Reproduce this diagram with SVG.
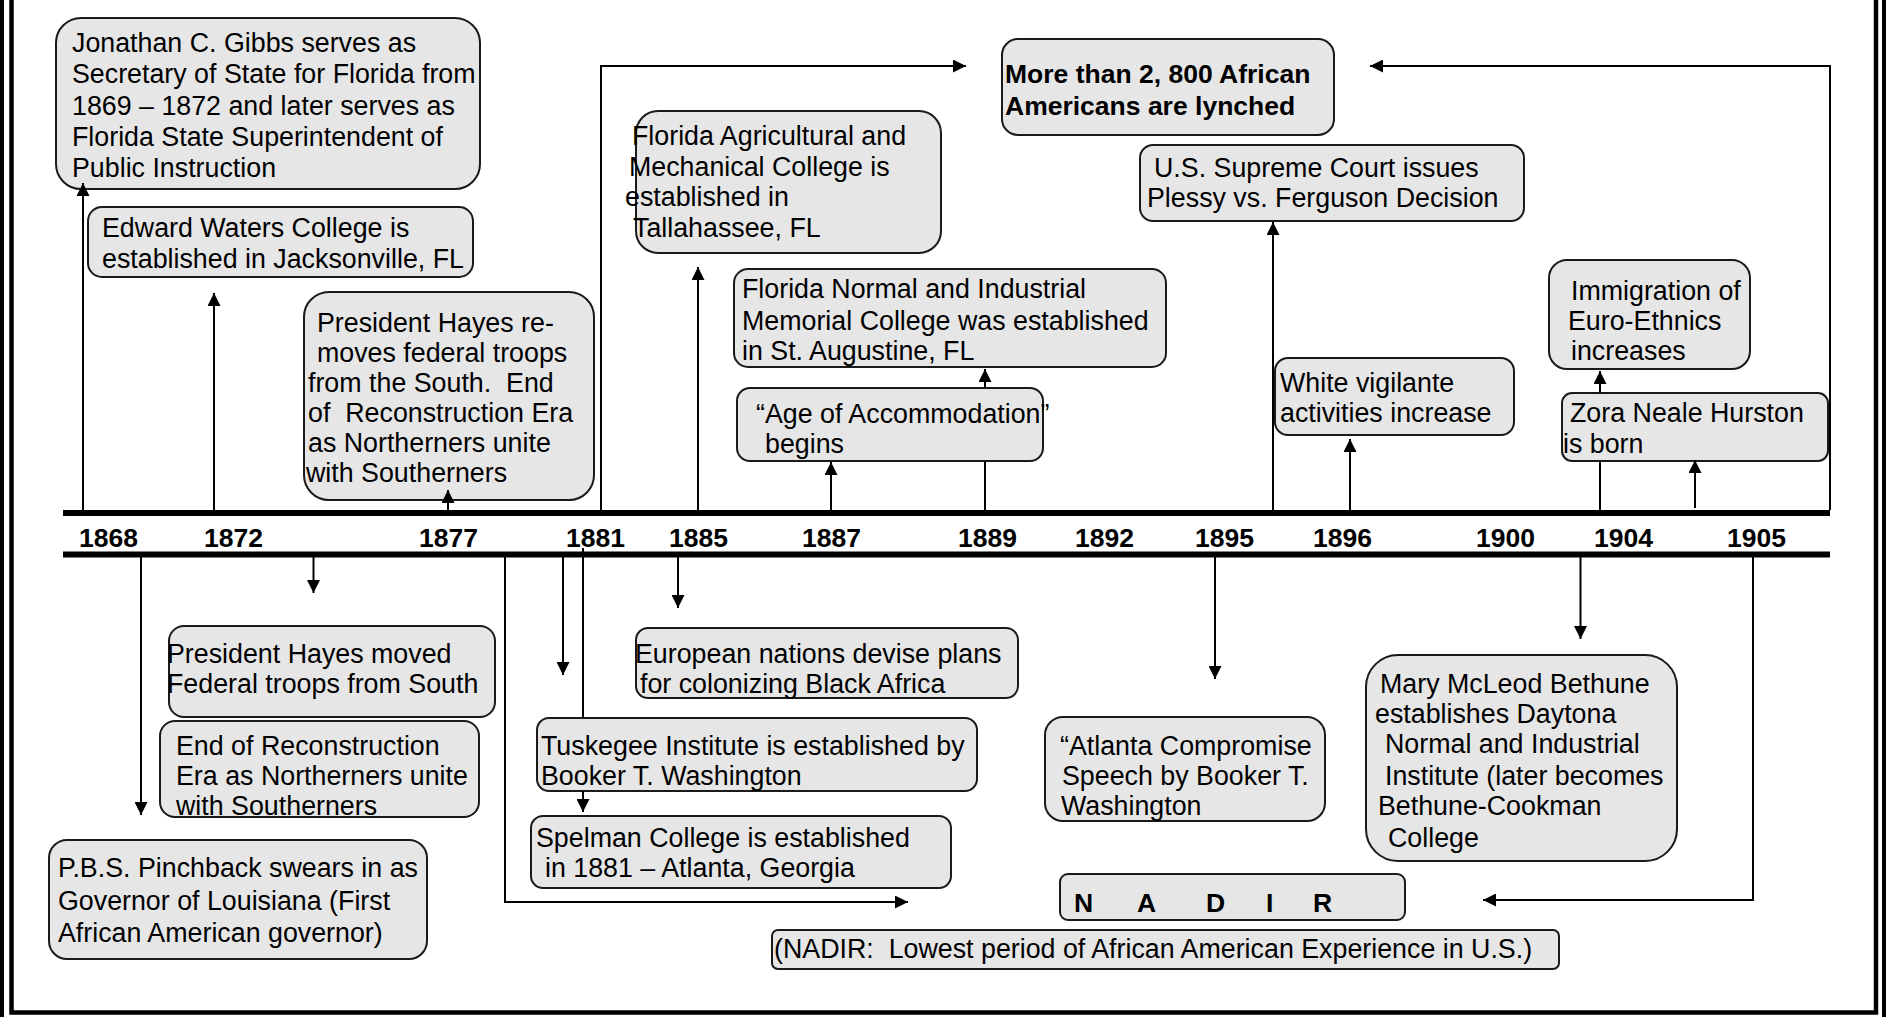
<svg xmlns="http://www.w3.org/2000/svg" width="1887" height="1017" viewBox="0 0 1887 1017">
<style>
.bx{fill:#e6e6e6;stroke:#1a1a1a;stroke-width:2}
.t{font-family:"Liberation Sans",Arial,sans-serif;font-size:26.8px;fill:#000;white-space:pre}
.b{font-weight:bold;font-size:26.5px}
.c{fill:none;stroke:#000;stroke-width:2}
.fr{fill:none;stroke:#000}
.tl{stroke:#000;stroke-width:6}
</style>
<defs>
<marker id="ah" markerUnits="userSpaceOnUse" markerWidth="14" markerHeight="13" refX="13" refY="6.5" orient="auto">
<path d="M0,0 L13,6.5 L0,13 z" fill="#000"/>
</marker>
<clipPath id="clipEnd"><rect x="160" y="721" width="319" height="96" rx="15"/></clipPath>
</defs>
<rect width="1887" height="1017" fill="#fff"/>
<g id="frame">
<rect class="fr" x="2" y="-20" width="1882" height="1045" stroke-width="4"/>
<rect class="fr" x="11.5" y="-20" width="1864.5" height="1032.5" stroke-width="4.5"/>
</g>
<g id="timeline">
<line class="tl" x1="63" y1="513" x2="1830" y2="513"/>
<line class="tl" x1="63" y1="554.5" x2="1830" y2="554.5"/>
<g class="t b">
<text x="79" y="547">1868</text>
<text x="204" y="547">1872</text>
<text x="419" y="547">1877</text>
<text x="566" y="547">1881</text>
<text x="669" y="547">1885</text>
<text x="802" y="547">1887</text>
<text x="958" y="547">1889</text>
<text x="1075" y="547">1892</text>
<text x="1195" y="547">1895</text>
<text x="1313" y="547">1896</text>
<text x="1476" y="547">1900</text>
<text x="1594" y="547">1904</text>
<text x="1727" y="547">1905</text>
</g>
</g>
<g id="n-gibbs">
<rect class="bx" x="56" y="18" width="424" height="171" rx="25"/>
<text class="t" x="72" y="52">Jonathan C. Gibbs serves as</text>
<text class="t" x="72" y="83">Secretary of State for Florida from</text>
<text class="t" x="72" y="115">1869 – 1872 and later serves as</text>
<text class="t" x="72" y="146">Florida State Superintendent of</text>
<text class="t" x="72" y="177">Public Instruction</text>
</g>
<g id="n-edward">
<rect class="bx" x="88" y="207" width="385" height="70" rx="14"/>
<text class="t" x="102" y="237">Edward Waters College is</text>
<text class="t" x="102" y="268">established in Jacksonville, FL</text>
</g>
<g id="n-hayes-removes">
<rect class="bx" x="304" y="292" width="290" height="208" rx="25"/>
<text class="t" x="317" y="332">President Hayes re-</text>
<text class="t" x="317" y="362">moves federal troops</text>
<text class="t" x="308" y="392">from the South.  End</text>
<text class="t" x="308" y="422">of  Reconstruction Era</text>
<text class="t" x="308" y="452">as Northerners unite</text>
<text class="t" x="306" y="482">with Southerners</text>
</g>
<g id="n-famu">
<rect class="bx" x="636" y="111" width="305" height="142" rx="22"/>
<text class="t" x="632" y="145">Florida Agricultural and</text>
<text class="t" x="629" y="176">Mechanical College is</text>
<text class="t" x="625" y="206">established in</text>
<text class="t" x="633" y="237">Tallahassee, FL</text>
</g>
<g id="n-lynched">
<rect class="bx" x="1002" y="39" width="332" height="96" rx="16"/>
<text class="t b" x="1005" y="83">More than 2, 800 African</text>
<text class="t b" x="1005" y="115">Americans are lynched</text>
</g>
<g id="n-fnim">
<rect class="bx" x="734" y="269" width="432" height="98" rx="14"/>
<text class="t" x="742" y="298">Florida Normal and Industrial</text>
<text class="t" x="742" y="330">Memorial College was established</text>
<text class="t" x="742" y="360">in St. Augustine, FL</text>
</g>
<g id="n-age">
<rect class="bx" x="737" y="388" width="306" height="73" rx="13"/>
<text class="t" x="756" y="423">“Age of Accommodation”</text>
<text class="t" x="765" y="453">begins</text>
</g>
<g id="n-plessy">
<rect class="bx" x="1140" y="145" width="384" height="76" rx="13"/>
<text class="t" x="1154" y="177">U.S. Supreme Court issues</text>
<text class="t" x="1147" y="207">Plessy vs. Ferguson Decision</text>
</g>
<g id="n-vigilante">
<rect class="bx" x="1275" y="358" width="239" height="77" rx="13"/>
<text class="t" x="1280" y="392">White vigilante</text>
<text class="t" x="1280" y="422">activities increase</text>
</g>
<g id="n-immigration">
<rect class="bx" x="1549" y="260" width="201" height="109" rx="18"/>
<text class="t" x="1571" y="300">Immigration of</text>
<text class="t" x="1568" y="330">Euro-Ethnics</text>
<text class="t" x="1571" y="360">increases</text>
</g>
<g id="n-zora">
<rect class="bx" x="1562" y="393" width="266" height="68" rx="10"/>
<text class="t" x="1570" y="422">Zora Neale Hurston</text>
<text class="t" x="1563" y="453">is born</text>
</g>
<g id="n-hayes-moved">
<rect class="bx" x="169" y="626" width="326" height="91" rx="15"/>
<text class="t" x="167" y="663">President Hayes moved</text>
<text class="t" x="167" y="693">Federal troops from South</text>
</g>
<g id="n-end-recon">
<rect class="bx" x="160" y="721" width="319" height="96" rx="15"/>
<g clip-path="url(#clipEnd)">
<text class="t" x="176" y="755">End of Reconstruction</text>
<text class="t" x="176" y="785">Era as Northerners unite</text>
<text class="t" x="176" y="815">with Southerners</text>
</g>
</g>
<g id="n-pinchback">
<rect class="bx" x="49" y="840" width="378" height="119" rx="18"/>
<text class="t" x="58" y="877">P.B.S. Pinchback swears in as</text>
<text class="t" x="58" y="910">Governor of Louisiana (First</text>
<text class="t" x="58" y="942">African American governor)</text>
</g>
<g id="n-tuskegee">
<rect class="bx" x="537" y="718" width="440" height="73" rx="12"/>
<text class="t" x="541" y="755">Tuskegee Institute is established by</text>
<text class="t" x="541" y="785">Booker T. Washington</text>
</g>
<g id="n-spelman">
<rect class="bx" x="531" y="816" width="420" height="72" rx="12"/>
<text class="t" x="536" y="847">Spelman College is established</text>
<text class="t" x="545" y="877">in 1881 – Atlanta, Georgia</text>
</g>
<g id="n-european">
<rect class="bx" x="636" y="628" width="382" height="70" rx="12"/>
<text class="t" x="635" y="663">European nations devise plans</text>
<text class="t" x="640" y="693">for colonizing Black Africa</text>
</g>
<g id="n-atlanta">
<rect class="bx" x="1045" y="717" width="280" height="104" rx="18"/>
<text class="t" x="1060" y="755">“Atlanta Compromise</text>
<text class="t" x="1062" y="785">Speech by Booker T.</text>
<text class="t" x="1061" y="815">Washington</text>
</g>
<g id="n-nadir">
<rect class="bx" x="1060" y="874" width="345" height="46" rx="8"/>
<text class="t b" x="1074 1137 1206 1266 1313" y="912">NADIR</text>
</g>
<g id="n-nadir-note">
<rect class="bx" x="772" y="930" width="787" height="39" rx="6"/>
<text class="t" x="774" y="958">(NADIR:  Lowest period of African American Experience in U.S.)</text>
</g>
<g id="n-bethune">
<rect class="bx" x="1366" y="655" width="311" height="206" rx="32"/>
<text class="t" x="1380" y="693">Mary McLeod Bethune</text>
<text class="t" x="1375" y="723">establishes Daytona</text>
<text class="t" x="1385" y="753">Normal and Industrial</text>
<text class="t" x="1385" y="785">Institute (later becomes</text>
<text class="t" x="1378" y="815">Bethune-Cookman</text>
<text class="t" x="1388" y="847">College</text>
</g>
<g id="connectors">
<path class="c" d="M83,510 V183" marker-end="url(#ah)"/>
<path class="c" d="M214,510 V293" marker-end="url(#ah)"/>
<path class="c" d="M448,510 V490" marker-end="url(#ah)"/>
<path class="c" d="M601,510 V66 H966" marker-end="url(#ah)"/>
<path class="c" d="M698,510 V267" marker-end="url(#ah)"/>
<path class="c" d="M831,510 V462" marker-end="url(#ah)"/>
<path class="c" d="M985,510 V461"/>
<path class="c" d="M985,388 V369" marker-end="url(#ah)"/>
<path class="c" d="M1273,510 V222" marker-end="url(#ah)"/>
<path class="c" d="M1350,510 V439" marker-end="url(#ah)"/>
<path class="c" d="M1600,510 V461"/>
<path class="c" d="M1600,393 V371" marker-end="url(#ah)"/>
<path class="c" d="M1695,508 V460" marker-end="url(#ah)"/>
<path class="c" d="M1830,510 V66 H1370" marker-end="url(#ah)"/>
<path class="c" d="M141,557 V815" marker-end="url(#ah)"/>
<path class="c" d="M313.5,557 V593" marker-end="url(#ah)"/>
<path class="c" d="M505,557 V902 H908" marker-end="url(#ah)"/>
<path class="c" d="M563,557 V675" marker-end="url(#ah)"/>
<path class="c" d="M583,548 V718"/>
<path class="c" d="M583,791 V812" marker-end="url(#ah)"/>
<path class="c" d="M678,557 V608" marker-end="url(#ah)"/>
<path class="c" d="M1215,557 V679" marker-end="url(#ah)"/>
<path class="c" d="M1580.5,557 V639" marker-end="url(#ah)"/>
<path class="c" d="M1753,557 V900 H1483" marker-end="url(#ah)"/>
</g>
</svg>
